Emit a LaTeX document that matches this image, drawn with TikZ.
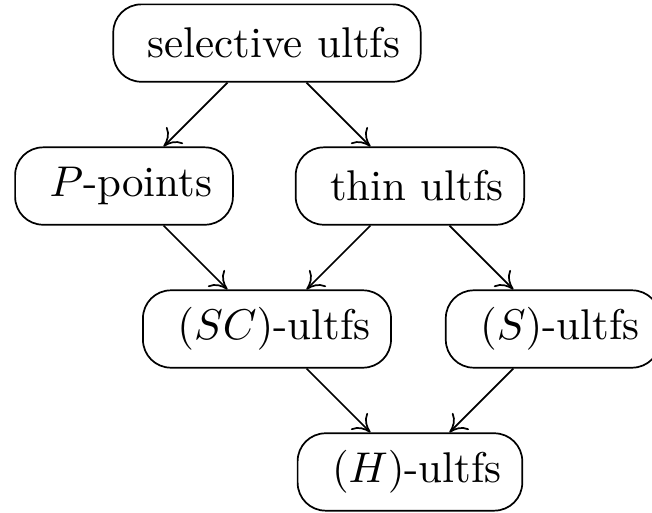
\documentclass[tikz,border=0pt]{standalone}
\usepackage{amsmath}
\usepackage{amssymb}
\usepackage{tikz}
\usetikzlibrary{arrows.meta}

\begin{document}
\begin{tikzpicture}[ultf/.style={draw,rounded corners=6.5pt,inner xsep=4.8pt,minimum height=18pt,thin,
execute at begin node={\hspace*{3.2pt}}},
myedge/.style={-{To[length=3.8pt,width=5.5pt]},thin},scale=1.0]
\useasboundingbox (-1.014,0.352) rectangle (4.317,-3.835);
\node[ultf] (SEL) at (1.169, 0) {selective ultfs};
\node[ultf] (PP) at (0, -1.169) {$P$-points};
\node[ultf] (TH) at (2.338, -1.169) {thin ultfs};
\node[ultf] (SC) at (1.169, -2.338) {$(SC)$-ultfs};
\node[ultf] (S) at (3.507, -2.338) {$(S)$-ultfs};
\node[ultf] (H) at (2.338, -3.507) {$(H)$-ultfs};
\draw[myedge] (SEL) -- (PP);
\draw[myedge] (SEL) -- (TH);
\draw[myedge] (PP) -- (SC);
\draw[myedge] (TH) -- (SC);
\draw[myedge] (TH) -- (S);
\draw[myedge] (SC) -- (H);
\draw[myedge] (S) -- (H);
\end{tikzpicture}
\end{document}
